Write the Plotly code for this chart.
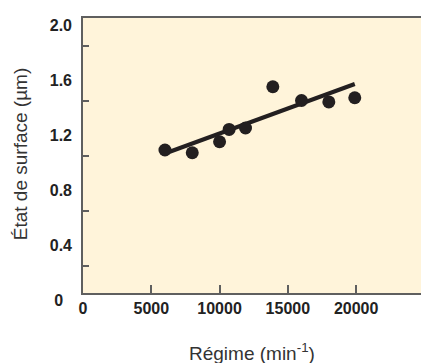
import plotly.graph_objects as go

# measured points: spindle speed (min-1) vs surface roughness (µm)
regime = [6000, 8000, 10000, 10700, 11900, 13900, 16000, 18000, 19900]
etat_surface = [1.04, 1.02, 1.10, 1.19, 1.20, 1.50, 1.40, 1.39, 1.42]

# trend line end points
fit_regime = [6150, 19900]
fit_etat = [1.02, 1.52]

x_ticks = [0, 5000, 10000, 15000, 20000]
x_ticktext = ["0", "5000", "10000", "15000", "20000"]
y_ticks = [0, 0.4, 0.8, 1.2, 1.6, 2.0]
y_ticktext = ["0\u00a0\u00a0", "0.4", "0.8", "1.2", "1.6", "2.0"]
y_minor = [0.2, 0.6, 1.0, 1.4, 1.8]

INK = "#231F20"
AXIS = "#5F5F5F"
PLOT_BG = "#FFF4DA"
FONT = "Liberation Sans, Arial, sans-serif"

fig = go.Figure()
fig.add_trace(go.Scatter(
    x=fit_regime, y=fit_etat, mode="lines",
    line=dict(color=INK, width=4), hoverinfo="skip",
))
fig.add_trace(go.Scatter(
    x=regime, y=etat_surface, mode="markers",
    marker=dict(color=INK, size=13),
))

fig.update_layout(
    width=421, height=363,
    margin=dict(l=83, r=0, t=18, b=70),
    paper_bgcolor="#FFFFFF",
    plot_bgcolor=PLOT_BG,
    showlegend=False,
    font=dict(family=FONT, color="#333333"),
)
fig.update_xaxes(
    range=[0, 24750], automargin=False,
    tickvals=x_ticks, ticktext=x_ticktext,
    ticks="inside", ticklen=8, tickwidth=1.5, tickcolor=AXIS,
    tickfont=dict(family=FONT, size=16, color="#222222", weight="bold"),
    showline=True, linecolor=AXIS, linewidth=1.6, mirror=True,
    showgrid=False, zeroline=False,
)
fig.update_yaxes(
    range=[0, 2.0], automargin=False,
    tickvals=y_ticks, ticktext=y_ticktext,
    ticks="", ticklabelstandoff=6, ticklabelshift=7,
    tickfont=dict(family=FONT, size=16, color="#222222", weight="bold"),
    minor=dict(tickvals=y_minor, ticks="inside", ticklen=6, tickwidth=1.5, tickcolor=AXIS, showgrid=False),
    showline=True, linecolor=AXIS, linewidth=1.6,
    showgrid=False, zeroline=False,
)

# axis titles as annotations so the margins stay fixed
fig.add_annotation(
    text="Régime (min<sup>-1</sup>)", xref="paper", yref="paper",
    x=0.5, y=-0.215, xanchor="center", yanchor="middle", showarrow=False,
    font=dict(family=FONT, size=19, color="#333333"),
)
fig.add_annotation(
    text="État de surface (µm)", xref="paper", yref="paper",
    x=-0.186, y=0.505, xanchor="center", yanchor="middle", textangle=-90, showarrow=False,
    font=dict(family=FONT, size=19, color="#333333"),
)

# drop the default page margin so the figure sits at the window's corner
fig.write_html(
    "out.html",
    config={"displayModeBar": False},
    post_script="document.body.style.margin='0';document.body.style.overflow='hidden';",
)
